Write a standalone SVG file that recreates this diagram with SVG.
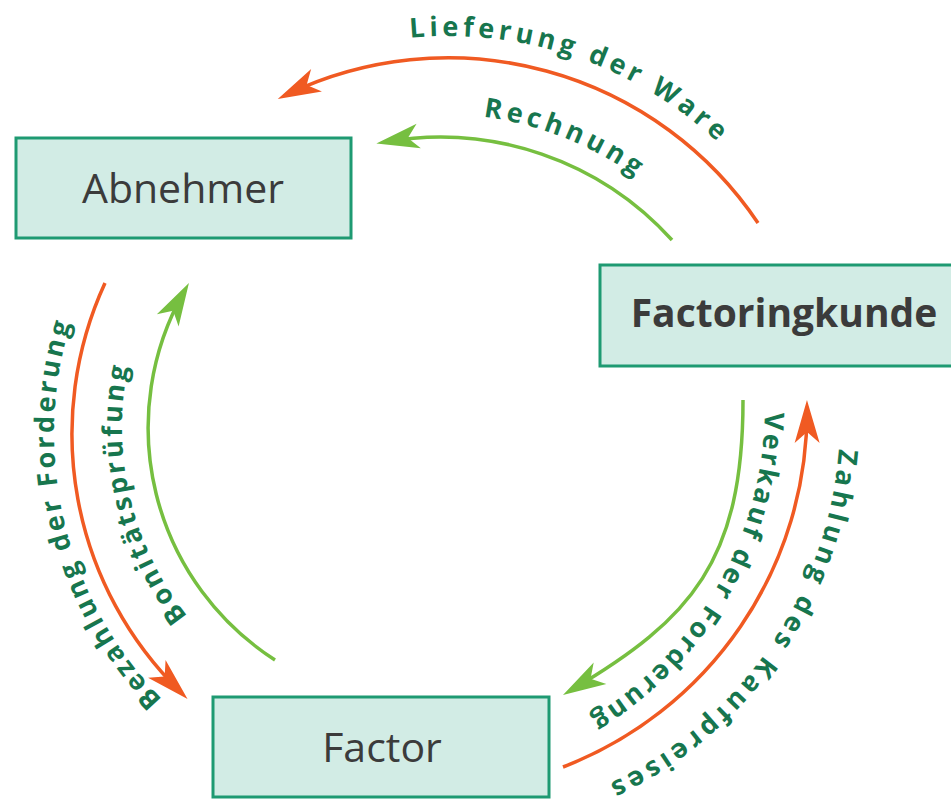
<svg xmlns="http://www.w3.org/2000/svg" xmlns:xlink="http://www.w3.org/1999/xlink" width="951" height="803" viewBox="0 0 951 803">
<style>
.box{fill:#d2ece5;stroke:#1e9a72;stroke-width:3}
.nt{font-family:"Open Sans","Noto Sans","Liberation Sans",sans-serif;font-size:41px;fill:#3b3b3b;text-anchor:middle}
.bold{font-weight:bold;font-size:39px}
.or{fill:none;stroke:#f05a22;stroke-width:3.5}
.gr{fill:none;stroke:#76bf40;stroke-width:3.5}
.lb{font-family:"Open Sans","Noto Sans","Liberation Sans",sans-serif;font-size:27px;font-weight:bold;fill:#17764e;letter-spacing:3px}
.wide{letter-spacing:4.4px}
</style>
<defs>
<marker id="ao" markerUnits="userSpaceOnUse" viewBox="-40 -15 55 30" markerWidth="55" markerHeight="30" refX="0" refY="0" orient="auto">
<path d="M10 0 L-33 -12.5 L-22 0 L-33 12.5 Z" fill="#f05a22"/>
</marker>
<marker id="ag" markerUnits="userSpaceOnUse" viewBox="-40 -15 55 30" markerWidth="55" markerHeight="30" refX="0" refY="0" orient="auto">
<path d="M10 0 L-33 -12.5 L-22 0 L-33 12.5 Z" fill="#76bf40"/>
</marker>
<path id="tLief" d="M410.1 37.8 A395 395 0 0 1 790.1 233.5"/>
<path id="tRech" d="M483.3 116.8 A336 336 0 0 1 731 282"/>
<path id="tBez" d="M162.2 699.2 A379 379 0 0 1 243.5 105.8"/>
<path id="tBon" d="M187.5 616.2 A303 303 0 0 1 273.5 165.6"/>
<path id="tVer" d="M764.9 412.4 A365 365 0 0 1 463.4 765.5"/>
<path id="tZahl" d="M838.9 448.8 A404 404 0 0 1 365.8 816.4"/>
</defs>
<rect width="951" height="803" fill="#ffffff"/>
<g id="connectors">
<path class="or" d="M758 223 A373 373 0 0 0 286.8 94.6" marker-end="url(#ao)"/>
<path class="gr" d="M672 240 A313 313 0 0 0 386.2 141.7" marker-end="url(#ag)"/>
<path class="or" d="M105 283 A361 361 0 0 0 180.4 691.9" marker-end="url(#ao)"/>
<path class="gr" d="M275 660 A276 276 0 0 1 184 291.7" marker-end="url(#ag)"/>
<path class="gr" d="M743 400 C743 560 692 619 571.6 689.9" marker-end="url(#ag)"/>
<path class="or" d="M563 767 A381 381 0 0 0 807 410" marker-end="url(#ao)"/>
<text class="lb wide"><textPath xlink:href="#tLief" href="#tLief">Lieferung der Ware</textPath></text>
<text class="lb wide"><textPath xlink:href="#tRech" href="#tRech">Rechnung</textPath></text>
<text class="lb"><textPath xlink:href="#tBez" href="#tBez">Bezahlung der Forderung</textPath></text>
<text class="lb"><textPath xlink:href="#tBon" href="#tBon">Bonitätsprüfung</textPath></text>
<text class="lb"><textPath xlink:href="#tVer" href="#tVer">Verkauf der Forderung</textPath></text>
<text class="lb wide"><textPath xlink:href="#tZahl" href="#tZahl">Zahlung des Kaufpreises</textPath></text>
</g>
<g id="abnehmer">
<rect class="box" x="16" y="138" width="335" height="100"/>
<text class="nt" x="183" y="203">Abnehmer</text>
</g>
<g id="factoringkunde">
<rect class="box" x="600" y="265" width="360" height="101"/>
<text class="nt bold" x="784" y="327">Factoringkunde</text>
</g>
<g id="factor">
<rect class="box" x="213" y="697" width="336" height="100"/>
<text class="nt" x="382" y="762">Factor</text>
</g>
</svg>
